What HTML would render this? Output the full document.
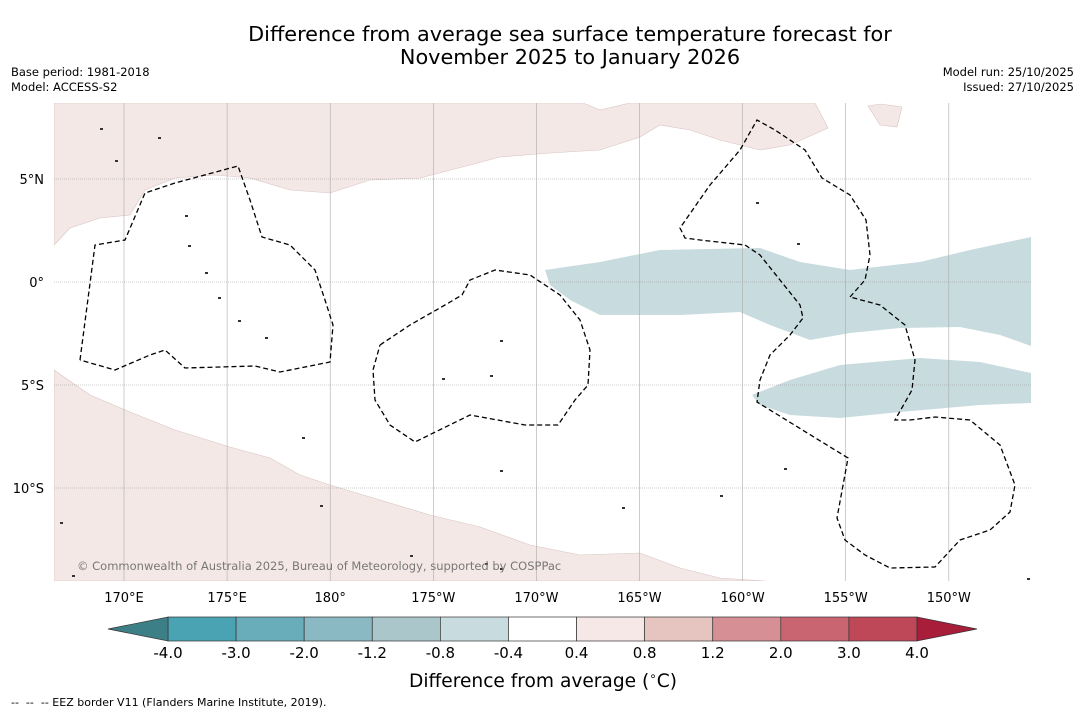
<!DOCTYPE html>
<html><head><meta charset="utf-8"><style>
body{margin:0;background:#fff;width:1085px;height:713px;overflow:hidden;font-family:"DejaVu Sans","Liberation Sans",sans-serif;}
svg{display:block}
</style></head><body>
<svg id="c" width="1085" height="713" xmlns="http://www.w3.org/2000/svg">
<text x="570" y="41" font-size="20.8" text-anchor="middle">Difference from average sea surface temperature forecast for</text>
<text x="570" y="64" font-size="20.8" text-anchor="middle">November 2025 to January 2026</text>
<text x="11" y="76" font-size="11.5">Base period: 1981-2018</text>
<text x="11" y="91" font-size="11.5">Model: ACCESS-S2</text>
<text x="1074" y="76" font-size="11.5" text-anchor="end">Model run: 25/10/2025</text>
<text x="1074" y="91" font-size="11.5" text-anchor="end">Issued: 27/10/2025</text>
<g id="map"></g>
<g id="cb"></g>
<text x="543" y="687" font-size="18.6" text-anchor="middle">Difference from average (<tspan baseline-shift="super" font-size="12">∘</tspan>C)</text>
<text x="11" y="706" font-size="11" xml:space="preserve">--  --  -- EEZ border V11 (Flanders Marine Institute, 2019).</text>
</svg>
<script>
const NS="http://www.w3.org/2000/svg";
const lonTicks=[170,175,180,185,190,195,200,205,210];
const lonLabels=["170°E","175°E","180°","175°W","170°W","165°W","160°W","155°W","150°W"];
const latTicks=[5,0,-5,-10];
const latLabels=["5°N","0°","5°S","10°S"];
const levels=[-4.0,-3.0,-2.0,-1.2,-0.8,-0.4,0.4,0.8,1.2,2.0,3.0,4.0];
const levelLabels=["-4.0","-3.0","-2.0","-1.2","-0.8","-0.4","0.4","0.8","1.2","2.0","3.0","4.0"];
const colors=["#4aa3b2","#69adba","#8ab8c3","#abc6cb","#c8dbde","#ffffff","#f5e8e6","#e6c4c0","#d58f95","#c96571","#be4858"];
const X0=54,X1=1031,Y0=103,Y1=581;
const xs=lon=>124+(lon-170)*20.62;
const ys=lat=>282-lat*20.6;
function el(t,a,p){const e=document.createElementNS(NS,t);for(const k in a)e.setAttribute(k,a[k]);(p||document.getElementById('map')).appendChild(e);return e;}
const map=document.getElementById('map');
const clip=el('clipPath',{id:'mc'});el('rect',{x:X0,y:Y0,width:X1-X0,height:Y1-Y0},clip);
const g=el('g',{'clip-path':'url(#mc)'});


const P=a=>a.map(p=>p.join(',')).join(' ');
const pinkTop=[[54,103],[54,245],[70,228],[100,218],[130,215],[145,190],[175,178],[215,175],[250,178],[290,190],[330,193],[370,180],[420,178],[470,165],[500,157],[550,153],[600,150],[640,137],[660,125],[690,130],[720,140],[760,150],[790,145],[828,128],[815,103],[630,103],[600,110],[583,103]];
const pinkIsle=[[868,106],[880,104],[902,107],[897,127],[880,125]];
const pinkBot=[[54,370],[90,395],[130,412],[175,430],[230,447],[270,458],[300,475],[330,485],[380,500],[430,515],[480,527],[530,545],[580,555],[640,553],[680,568],[720,578],[765,581],[54,581]];
const blue1=[[545,270],[600,262],[660,250],[760,248],[800,262],[850,270],[920,262],[970,250],[1031,237],[1031,346],[1000,335],[960,327],[900,328],[850,333],[810,340],[770,325],[740,312],[680,315],[600,315],[570,300],[550,285]];
const blue2=[[752,395],[790,380],[840,365],[920,358],[980,362],[1031,373],[1031,403],[980,405],[900,412],[840,418],[790,415],[760,405]];
[[pinkTop,'#f4e8e6','pink-region-north'],[pinkIsle,'#f4e8e6','pink-region-island'],[pinkBot,'#f4e8e6','pink-region-south'],[blue1,'#c8dbde','blue-band-equatorial'],[blue2,'#c8dbde','blue-band-south']].forEach(([pts,c,n])=>{
 const e=el('polygon',{points:P(pts),fill:c,stroke:c==='#f4e8e6'?'#d9c4c2':'none','stroke-width':0.6},g);
 
 
});
lonTicks.forEach((l,i)=>{const x=xs(l);
 const ln=el('line',{x1:x,x2:x,y1:Y0,y2:Y1,stroke:'#aaa','stroke-width':0.6},g);
 
 
 const t=el('text',{x:x,y:602,'font-size':13,'text-anchor':'middle'});t.textContent=lonLabels[i];
 
 
});
latTicks.forEach((l,i)=>{const y=ys(l);
 const ln=el('line',{x1:X0,x2:X1,y1:y,y2:y,stroke:'#999','stroke-width':0.6,'stroke-dasharray':'1,1'},g);
 
 
 const t=el('text',{x:44,y:y+5,'font-size':13,'text-anchor':'end'});t.textContent=latLabels[i];
 
 
});
const eez=[
[[80,360],[95,245],[125,240],[145,193],[175,183],[238,166],[250,200],[262,237],[290,245],[315,270],[325,300],[333,325],[330,362],[280,372],[255,366],[185,368],[165,350],[150,355],[115,370],[80,360]],
[[380,345],[410,325],[445,305],[462,295],[470,280],[495,270],[530,275],[560,295],[580,320],[590,350],[588,385],[575,400],[558,425],[525,425],[470,415],[415,442],[390,425],[375,400],[373,370],[380,345]],
[[850,297],[865,280],[870,255],[866,220],[850,195],[822,178],[805,150],[775,130],[757,120],[740,150],[710,185],[680,228],[685,238],[700,240],[745,245],[760,255],[780,280],[800,305],[803,318],[790,335],[770,355],[760,380],[757,402],[848,458],[837,518],[845,540],[865,555],[890,568],[935,567],[960,540],[990,530],[1010,512],[1015,485],[1000,445],[970,420],[935,417],[910,420],[895,420],[912,390],[915,360],[905,325],[880,305],[850,297]]];
eez.forEach(pts=>{const e=el('polyline',{points:P(pts),fill:'none',stroke:'#000','stroke-width':1.3,'stroke-dasharray':'5,3'},g);
 
 
});
const isl=[[100,128],[158,137],[115,160],[185,215],[188,245],[205,272],[218,297],[238,320],[265,337],[302,437],[320,505],[500,340],[490,375],[442,378],[500,470],[622,507],[720,495],[784,468],[756,202],[797,243],[60,522],[72,575],[485,563],[500,568],[410,555],[1027,578]];
isl.forEach(p=>{const e=el('rect',{x:p[0],y:p[1],width:3,height:2,fill:'#333'},g);
 
 
});
const cp=el('text',{x:77,y:570,'font-size':11.5,fill:'#777'},g);cp.textContent='© Commonwealth of Australia 2025, Bureau of Meteorology, supported by COSPPac';


const cb=document.getElementById('cb');
const CX0=168,CX1=917,CY0=617,CY1=641;
const n=colors.length,w=(CX1-CX0)/n;
colors.forEach((c,i)=>{const r=el('rect',{x:CX0+i*w,y:CY0,width:w,height:CY1-CY0,fill:c,stroke:'#333','stroke-width':0.7},cb);
 
 
});
const la=el('polygon',{points:`108,629 ${CX0},${CY0} ${CX0},${CY1}`,fill:'#3d7f86',stroke:'#333','stroke-width':0.7},cb);


const ra=el('polygon',{points:`977,629 ${CX1},${CY0} ${CX1},${CY1}`,fill:'#a81d3a',stroke:'#333','stroke-width':0.7},cb);


levels.forEach((v,i)=>{const t=el('text',{x:CX0+i*w,y:658,'font-size':15,'text-anchor':'middle'},cb);t.textContent=levelLabels[i];
 
 
});
</script>
</body></html>
